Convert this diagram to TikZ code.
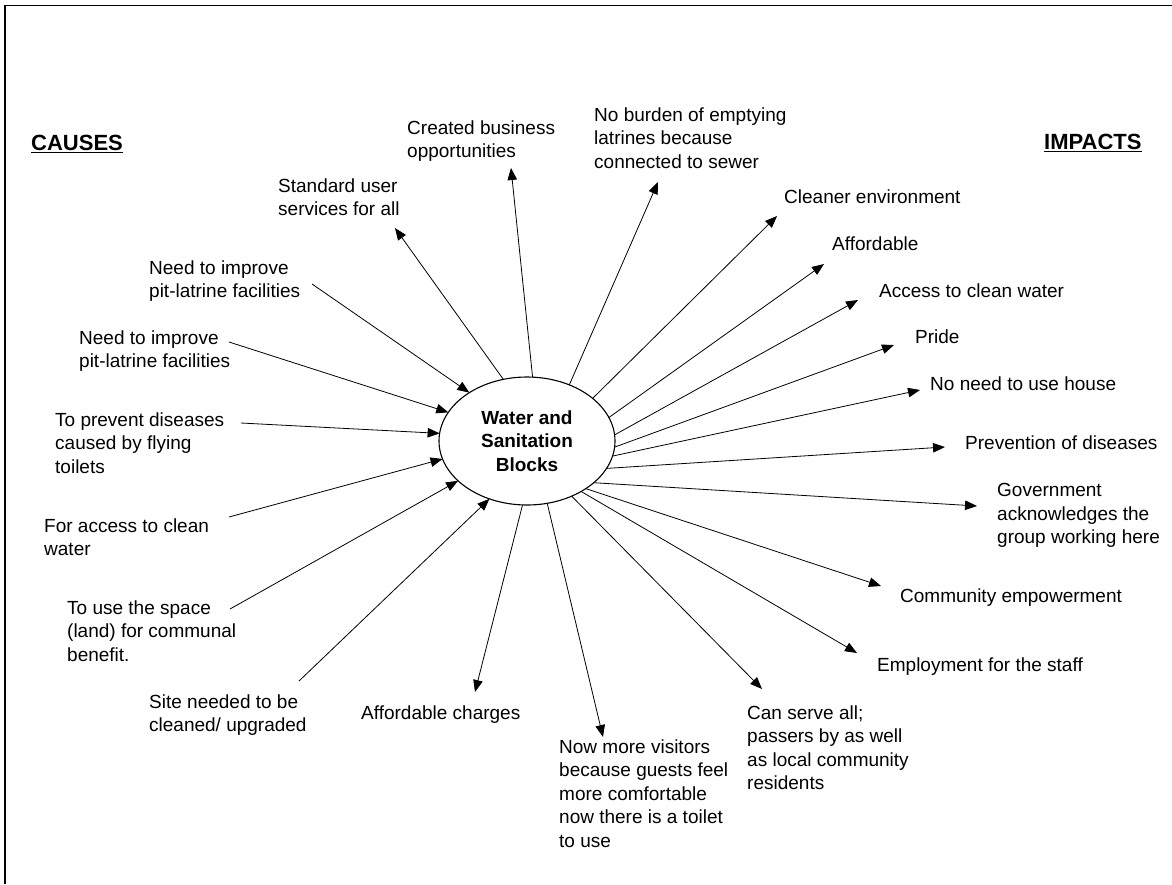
\documentclass[tikz,border=0pt]{standalone}
\usepackage{fontspec}
\setmainfont{Liberation Sans}
\usetikzlibrary{shapes.geometric,arrows.meta}
\newcommand{\txt}{\fontsize{19}{23.5}\selectfont}
\newcommand{\hdr}{\fontsize{22}{26}\selectfont\bfseries}

\begin{document}
\begin{tikzpicture}[x=1pt,y=-1pt,
    lbl/.style={anchor=north west,inner sep=0,align=left,font=\txt},
    head/.style={anchor=base west,inner sep=0,font=\hdr},
    arr/.style={line width=0.8,-{Triangle[length=12pt,width=9.5pt]}}]
    \useasboundingbox (0,0) rectangle (1172,884);
    \draw[line width=1.8] (5,884)--(5,5.5)--(1172,5.5);

    \node[head] (causes) at (31,150) {CAUSES};
    \node[head] (impacts) at (1044,149) {IMPACTS};
    \draw[line width=1.6] ([yshift=-2.5pt]causes.base west)--([yshift=-2.5pt]causes.base east);
    \draw[line width=1.6] ([yshift=-2.5pt]impacts.base west)--([yshift=-2.5pt]impacts.base east);

    \node[ellipse,draw,line width=1.1,minimum width=176,minimum height=128,inner sep=0,outer sep=0,
        align=center,font=\txt\bfseries] (hub) at (527,441) {Water and\\Sanitation\\Blocks};

    % causes
    \node[lbl] (nd1) at (149,260.5) {Need to improve\\pit-latrine facilities};
    \node[lbl] (nd2) at (79,330.5) {Need to improve\\pit-latrine facilities};
    \node[lbl] (prev) at (55,412.5) {To prevent diseases\\caused by flying\\toilets};
    \node[lbl] (wat) at (44,518.5) {For access to clean\\water};
    \node[lbl] (spc) at (67,600.5) {To use the space\\(land) for communal\\benefit.};
    \node[lbl] (site) at (149,694.5) {Site needed to be\\cleaned/ upgraded};

    % impacts
    \node[lbl] (std) at (278,178.5) {Standard user\\services for all};
    \node[lbl] (crt) at (407,120.5) {Created business\\opportunities};
    \node[lbl] (nob) at (594,107.5) {No burden of emptying\\latrines because\\connected to sewer};
    \node[lbl] (cln) at (784,189.5) {Cleaner environment};
    \node[lbl] (aff) at (832,236.5) {Affordable};
    \node[lbl] (acc) at (879,283.5) {Access to clean water};
    \node[lbl] (prd) at (915,329.5) {Pride};
    \node[lbl] (non) at (930,376.5) {No need to use house};
    \node[lbl] (prv) at (965,435.5) {Prevention of diseases};
    \node[lbl] (gov) at (997,483.5) {Government\\acknowledges the\\group working here};
    \node[lbl] (com) at (900,588.5) {Community empowerment};
    \node[lbl] (emp) at (877,657.5) {Employment for the staff};
    \node[lbl] (can) at (747,705.5) {Can serve all;\\passers by as well\\as local community\\residents};
    \node[lbl] (now) at (559,739.5) {Now more visitors\\because guests feel\\more comfortable\\now there is a toilet\\to use};
    \node[lbl] (afc) at (361,705.5) {Affordable charges};

    % free ends of the connectors
    \coordinate (nd1-e) at (312,284);
    \coordinate (nd2-e) at (229,342);
    \coordinate (prev-e) at (241,423);
    \coordinate (wat-e) at (229,517);
    \coordinate (spc-e) at (230,609);
    \coordinate (site-e) at (299,681);
    \coordinate (std-e) at (395,228);
    \coordinate (crt-e) at (511,168);
    \coordinate (nob-e) at (658,182);
    \coordinate (cln-e) at (777,216);
    \coordinate (aff-e) at (824,264);
    \coordinate (acc-e) at (858,300);
    \coordinate (prd-e) at (894,345);
    \coordinate (non-e) at (920,390);
    \coordinate (prv-e) at (945,447);
    \coordinate (gov-e) at (977,506);
    \coordinate (com-e) at (881,586);
    \coordinate (emp-e) at (857,653);
    \coordinate (can-e) at (762,689);
    \coordinate (now-e) at (603,737);
    \coordinate (afc-e) at (475,692);

    \draw[arr] (nd1-e)--(hub.140);
    \draw[arr] (nd2-e)--(hub.160);
    \draw[arr] (prev-e)--(hub.175);
    \draw[arr] (wat-e)--(hub.192);
    \draw[arr] (spc-e)--(hub.210);
    \draw[arr] (site-e)--(hub.237);

    \draw[arr] (hub.111)--(std-e);
    \draw[arr] (hub.85)--(crt-e);
    \draw[arr] (hub.53)--(nob-e);
    \draw[arr] (hub.33)--(cln-e);
    \draw[arr] (hub.16)--(aff-e);
    \draw[arr] (hub.4)--(acc-e);
    \draw[arr] (hub.-4)--(prd-e);
    \draw[arr] (hub.-10)--(non-e);
    \draw[arr] (hub.-19)--(prv-e);
    \draw[arr] (hub.-32)--(gov-e);
    \draw[arr] (hub.-39)--(com-e);
    \draw[arr] (hub.-43)--(emp-e);
    \draw[arr] (hub.-51)--(can-e);
    \draw[arr] (hub.-72)--(now-e);
    \draw[arr] (hub.-94)--(afc-e);
\end{tikzpicture}
\end{document}
